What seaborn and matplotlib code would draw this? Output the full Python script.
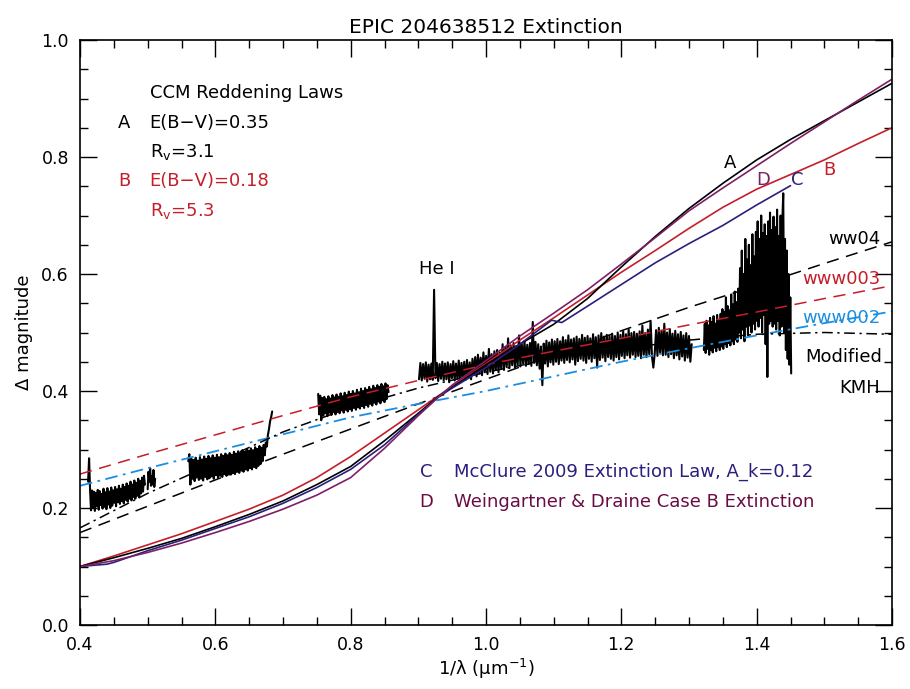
import numpy as np
import matplotlib
matplotlib.use("Agg")
import matplotlib.pyplot as plt
import seaborn as sns
from matplotlib.ticker import MultipleLocator

# ---- spectrum pieces (1/lambda range, then measured delta mag) ----
spec1_range = (0.412, 0.496)
spec1_y = [0.245, 0.285, 0.232, 0.196, 0.230, 0.200, 0.228, 0.195, 0.226, 0.203,
           0.231, 0.197, 0.229, 0.205, 0.224, 0.199, 0.233, 0.202, 0.227, 0.198,
           0.234, 0.206, 0.228, 0.200, 0.235, 0.204, 0.230, 0.209, 0.236, 0.203,
           0.232, 0.210, 0.238, 0.207, 0.233, 0.212, 0.240, 0.208, 0.236, 0.214,
           0.242, 0.211, 0.238, 0.216, 0.245, 0.213, 0.240, 0.219, 0.247, 0.216,
           0.243, 0.221, 0.250, 0.218, 0.246, 0.225, 0.252, 0.228, 0.255, 0.240]
spec2_range = (0.500, 0.511)
spec2_y = [0.232, 0.262, 0.245, 0.268, 0.238, 0.255, 0.240, 0.265, 0.236, 0.250]
spec3_range = (0.560, 0.684)
spec3_y = [0.280, 0.292, 0.240, 0.284, 0.250, 0.282, 0.246, 0.286, 0.252, 0.281,
           0.248, 0.287, 0.250, 0.283, 0.247, 0.288, 0.253, 0.284, 0.249, 0.289,
           0.251, 0.285, 0.254, 0.290, 0.250, 0.286, 0.256, 0.291, 0.252, 0.287,
           0.255, 0.292, 0.253, 0.289, 0.258, 0.293, 0.255, 0.290, 0.259, 0.294,
           0.257, 0.291, 0.260, 0.296, 0.258, 0.293, 0.262, 0.297, 0.260, 0.294,
           0.264, 0.299, 0.262, 0.296, 0.266, 0.300, 0.264, 0.298, 0.268, 0.302,
           0.266, 0.299, 0.270, 0.304, 0.268, 0.301, 0.272, 0.306, 0.275, 0.303,
           0.280, 0.308, 0.290, 0.312, 0.305, 0.325, 0.335, 0.348, 0.355, 0.365]
spec4_range = (0.752, 0.856)
spec4_y = [0.395, 0.360, 0.392, 0.350, 0.388, 0.358, 0.390, 0.362, 0.386, 0.357,
           0.391, 0.363, 0.387, 0.359, 0.393, 0.364, 0.389, 0.360, 0.394, 0.366,
           0.390, 0.362, 0.396, 0.367, 0.391, 0.363, 0.397, 0.368, 0.393, 0.365,
           0.399, 0.369, 0.395, 0.366, 0.400, 0.371, 0.396, 0.368, 0.402, 0.372,
           0.398, 0.370, 0.404, 0.374, 0.400, 0.371, 0.405, 0.376, 0.402, 0.373,
           0.407, 0.378, 0.403, 0.375, 0.409, 0.380, 0.405, 0.377, 0.410, 0.382,
           0.407, 0.379, 0.412, 0.384, 0.408, 0.381, 0.413, 0.386, 0.410, 0.398]
spec5_range = (0.901, 1.304)
spec5_y = [0.420, 0.448, 0.418, 0.446, 0.421, 0.449, 0.416, 0.445, 0.420, 0.447,
           0.419, 0.573, 0.422, 0.448, 0.417, 0.446, 0.421, 0.450, 0.418, 0.447,
           0.420, 0.449, 0.415, 0.446, 0.422, 0.451, 0.418, 0.447, 0.421, 0.452,
           0.416, 0.448, 0.423, 0.450, 0.419, 0.453, 0.422, 0.449, 0.420, 0.455,
           0.428, 0.458, 0.425, 0.462, 0.430, 0.457, 0.427, 0.466, 0.432, 0.460,
           0.429, 0.472, 0.433, 0.463, 0.430, 0.468, 0.436, 0.470, 0.432, 0.466,
           0.438, 0.480, 0.436, 0.475, 0.441, 0.490, 0.439, 0.478, 0.444, 0.482,
           0.440, 0.477, 0.445, 0.495, 0.442, 0.480, 0.447, 0.485, 0.443, 0.479,
           0.446, 0.482, 0.443, 0.518, 0.448, 0.484, 0.444, 0.480, 0.438, 0.476,
           0.410, 0.481, 0.447, 0.486, 0.442, 0.483, 0.449, 0.488, 0.445, 0.485,
           0.450, 0.489, 0.446, 0.485, 0.452, 0.492, 0.448, 0.487, 0.453, 0.495,
           0.449, 0.488, 0.454, 0.490, 0.445, 0.493, 0.451, 0.489, 0.455, 0.496,
           0.452, 0.491, 0.448, 0.494, 0.455, 0.490, 0.450, 0.497, 0.456, 0.492,
           0.440, 0.495, 0.453, 0.499, 0.457, 0.493, 0.451, 0.496, 0.458, 0.494,
           0.455, 0.498, 0.452, 0.494, 0.458, 0.500, 0.454, 0.496, 0.460, 0.502,
           0.456, 0.497, 0.461, 0.505, 0.457, 0.499, 0.462, 0.501, 0.458, 0.498,
           0.460, 0.502, 0.456, 0.512, 0.462, 0.499, 0.458, 0.505, 0.463, 0.520,
           0.459, 0.440, 0.464, 0.504, 0.460, 0.508, 0.465, 0.503, 0.461, 0.515,
           0.462, 0.500, 0.458, 0.506, 0.463, 0.498, 0.456, 0.503, 0.461, 0.497,
           0.454, 0.501, 0.459, 0.495, 0.452, 0.499, 0.457, 0.494, 0.450, 0.480]
spec6_range = (1.322, 1.451)
spec6_y = [0.470, 0.515, 0.465, 0.520, 0.472, 0.512, 0.462, 0.525, 0.470, 0.518,
           0.466, 0.528, 0.474, 0.515, 0.468, 0.530, 0.475, 0.520, 0.470, 0.532,
           0.476, 0.540, 0.472, 0.535, 0.480, 0.560, 0.475, 0.545, 0.482, 0.538,
           0.478, 0.565, 0.485, 0.548, 0.480, 0.570, 0.488, 0.552, 0.484, 0.575,
           0.500, 0.610, 0.490, 0.640, 0.505, 0.600, 0.485, 0.660, 0.510, 0.625,
           0.495, 0.650, 0.512, 0.615, 0.500, 0.668, 0.515, 0.630, 0.505, 0.672,
           0.520, 0.690, 0.510, 0.660, 0.525, 0.700, 0.500, 0.670, 0.530, 0.685,
           0.480, 0.665, 0.424, 0.690, 0.515, 0.705, 0.520, 0.675, 0.510, 0.698,
           0.515, 0.680, 0.505, 0.710, 0.520, 0.665, 0.495, 0.700, 0.510, 0.690,
           0.738, 0.500, 0.660, 0.470, 0.640, 0.455, 0.600, 0.445, 0.560, 0.430]

# ---- extinction law curves ----
ccm_x = [0.40, 0.45, 0.50, 0.55, 0.60, 0.65, 0.70, 0.75, 0.80, 0.85, 0.90, 0.93,
         0.95, 1.00, 1.05, 1.10, 1.15, 1.20, 1.25, 1.30, 1.35, 1.40, 1.45, 1.50,
         1.55, 1.60]
law_a = [0.100, 0.115, 0.131, 0.148, 0.168, 0.189, 0.212, 0.240, 0.271, 0.315,
         0.362, 0.391, 0.406, 0.445, 0.480, 0.514, 0.558, 0.612, 0.664, 0.712,
         0.755, 0.795, 0.830, 0.862, 0.894, 0.926]
law_b = [0.100, 0.118, 0.137, 0.156, 0.177, 0.198, 0.222, 0.252, 0.288, 0.328,
         0.368, 0.392, 0.408, 0.447, 0.487, 0.525, 0.564, 0.603, 0.640, 0.678,
         0.714, 0.745, 0.770, 0.795, 0.823, 0.850]
law_d = [0.100, 0.110, 0.124, 0.140, 0.158, 0.177, 0.198, 0.222, 0.252, 0.302,
         0.358, 0.390, 0.410, 0.452, 0.494, 0.533, 0.573, 0.617, 0.662, 0.708,
         0.747, 0.785, 0.823, 0.860, 0.897, 0.933]
mcc_x = [0.40, 0.44, 0.45, 0.50, 0.55, 0.60, 0.65, 0.70, 0.75, 0.80, 0.85, 0.90,
         0.93, 0.95, 1.00, 1.05, 1.097, 1.112, 1.15, 1.20, 1.25, 1.30, 1.35, 1.40,
         1.45]
law_c = [0.100, 0.104, 0.107, 0.127, 0.145, 0.165, 0.185, 0.208, 0.235, 0.266,
         0.308, 0.360, 0.390, 0.405, 0.440, 0.480, 0.521, 0.517, 0.545, 0.582,
         0.619, 0.652, 0.683, 0.718, 0.751]

# ---- dust models ----
mod_x = [0.40, 0.50, 0.60, 0.70, 0.80, 0.90, 1.00, 1.10, 1.20, 1.30, 1.40, 1.50, 1.60]
ww04 = [0.158, 0.203, 0.248, 0.292, 0.335, 0.378, 0.420, 0.462, 0.503, 0.543, 0.580, 0.618, 0.655]
www003 = [0.258, 0.292, 0.325, 0.358, 0.390, 0.418, 0.445, 0.468, 0.490, 0.513, 0.535, 0.558, 0.580]
www002 = [0.238, 0.268, 0.297, 0.326, 0.355, 0.378, 0.400, 0.425, 0.450, 0.473, 0.495, 0.516, 0.536]
kmh = [0.166, 0.225, 0.277, 0.330, 0.372, 0.405, 0.432, 0.455, 0.472, 0.487, 0.497, 0.500, 0.497]

BLACK = "black"
RED = "#c41e2a"
NAVY = "#2a1f7c"
PURPLE = "#7e1f66"
MAROON = "#6a0c44"
BLUE = "#1a8ee0"

sns.set_style("ticks")
plt.rcParams["font.family"] = ["DejaVu Sans"]
plt.rcParams["mathtext.fontset"] = "dejavusans"
plt.rcParams["text.color"] = "black"
plt.rcParams["axes.labelcolor"] = "black"

fig = plt.figure(figsize=(9.1, 6.89), dpi=100)
ax = fig.add_axes([80 / 910, 64 / 689, 812 / 910, 585 / 689])

# spectrum
for rng, vals in [(spec1_range, spec1_y), (spec2_range, spec2_y), (spec3_range, spec3_y),
                  (spec4_range, spec4_y), (spec5_range, spec5_y), (spec6_range, spec6_y)]:
    xs = np.linspace(rng[0], rng[1], len(vals))
    sns.lineplot(x=xs, y=vals, ax=ax, color=BLACK, lw=1.5, sort=False, estimator=None)

# models
sns.lineplot(x=mod_x, y=ww04, ax=ax, color=BLACK, lw=1.1, estimator=None).lines[-1].set_dashes([8, 5])
sns.lineplot(x=mod_x, y=www003, ax=ax, color=RED, lw=1.1, estimator=None).lines[-1].set_dashes([8, 5])
sns.lineplot(x=mod_x, y=www002, ax=ax, color=BLUE, lw=1.3, estimator=None).lines[-1].set_dashes([7, 3, 1.5, 3])
sns.lineplot(x=mod_x, y=kmh, ax=ax, color=BLACK, lw=1.1, estimator=None).lines[-1].set_dashes([7, 3, 1.5, 3])

# extinction laws
sns.lineplot(x=ccm_x, y=law_b, ax=ax, color=RED, lw=1.2, estimator=None)
sns.lineplot(x=ccm_x, y=law_a, ax=ax, color=BLACK, lw=1.2, estimator=None)
sns.lineplot(x=mcc_x, y=law_c, ax=ax, color=NAVY, lw=1.2, estimator=None)
sns.lineplot(x=ccm_x, y=law_d, ax=ax, color=PURPLE, lw=1.2, estimator=None)

ax.set_xlim(0.4, 1.6)
ax.set_ylim(0.0, 1.0)
ax.xaxis.set_major_locator(MultipleLocator(0.2))
ax.xaxis.set_minor_locator(MultipleLocator(0.05))
ax.yaxis.set_major_locator(MultipleLocator(0.2))
ax.yaxis.set_minor_locator(MultipleLocator(0.05))
ax.xaxis.set_major_formatter(plt.FormatStrFormatter("%.1f"))
ax.yaxis.set_major_formatter(plt.FormatStrFormatter("%.1f"))
ax.tick_params(which="both", direction="in", top=True, right=True, width=1.0,
               labelsize=12.5, color="black", labelcolor="black")
ax.tick_params(which="major", length=12, pad=8)
ax.tick_params(which="minor", length=6)
for sp in ax.spines.values():
    sp.set_linewidth(1.2)
    sp.set_color("black")

ax.set_title("EPIC 204638512 Extinction", fontsize=14.5, pad=5, color="black")
ax.set_xlabel("1/λ (μm$^{-1}$)", fontsize=13, labelpad=2)
ax.set_ylabel("Δ magnitude", fontsize=13, labelpad=6)

fs = 13
ax.text(0.503, 0.909, "CCM Reddening Laws", fontsize=fs, va="center")
ax.text(0.456, 0.858, "A", fontsize=fs, va="center")
ax.text(0.503, 0.858, "E(B−V)=0.35", fontsize=fs, va="center")
ax.text(0.503, 0.809, "R$_\\mathrm{v}$=3.1", fontsize=fs, va="center")
ax.text(0.456, 0.759, "B", fontsize=fs, va="center", color=RED)
ax.text(0.503, 0.759, "E(B−V)=0.18", fontsize=fs, va="center", color=RED)
ax.text(0.503, 0.708, "R$_\\mathrm{v}$=5.3", fontsize=fs, va="center", color=RED)

ax.text(0.927, 0.608, "He I", fontsize=fs, va="center", ha="center")
ax.text(1.36, 0.790, "A", fontsize=fs, va="center", ha="center")
ax.text(1.409, 0.761, "D", fontsize=fs, va="center", ha="center", color=PURPLE)
ax.text(1.46, 0.761, "C", fontsize=fs, va="center", ha="center", color=NAVY)
ax.text(1.508, 0.778, "B", fontsize=fs, va="center", ha="center", color=RED)

ax.text(1.583, 0.659, "ww04", fontsize=fs, va="center", ha="right")
ax.text(1.583, 0.592, "www003", fontsize=fs, va="center", ha="right", color=RED)
ax.text(1.583, 0.525, "www002", fontsize=fs, va="center", ha="right", color=BLUE)
ax.text(1.585, 0.458, "Modified", fontsize=fs, va="center", ha="right")
ax.text(1.583, 0.405, "KMH", fontsize=fs, va="center", ha="right")

ax.text(0.902, 0.262, "C", fontsize=fs, va="center", color=NAVY)
ax.text(0.953, 0.262, "McClure 2009 Extinction Law, A_k=0.12", fontsize=fs, va="center", color=NAVY)
ax.text(0.902, 0.210, "D", fontsize=fs, va="center", color=MAROON)
ax.text(0.953, 0.210, "Weingartner & Draine Case B Extinction", fontsize=fs, va="center", color=MAROON)

fig.savefig("out.png", dpi=100)
